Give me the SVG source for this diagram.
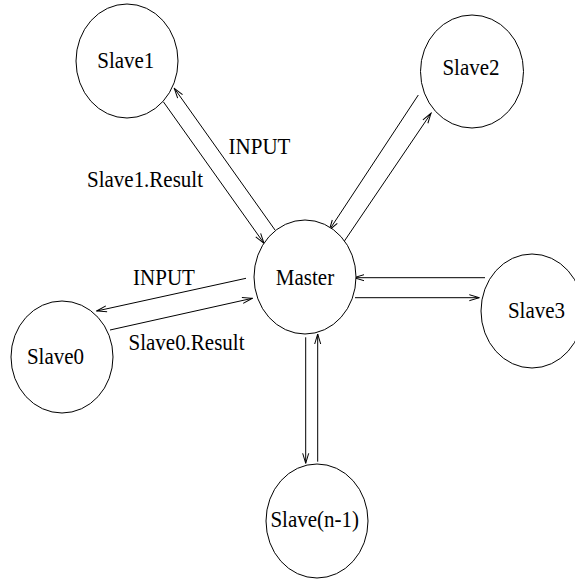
<svg xmlns="http://www.w3.org/2000/svg" width="575" height="582" viewBox="0 0 575 582">
<style>
.n{fill:#fff;stroke:#000;stroke-width:1}
.t{font-family:"Liberation Serif","Times New Roman",serif;font-size:21px;fill:#000;text-anchor:middle}
.c{stroke:#000;stroke-width:1;fill:none;marker-end:url(#ah)}
</style>
<defs>
<marker id="ah" markerUnits="userSpaceOnUse" markerWidth="12" markerHeight="8" refX="11" refY="4" orient="auto">
<path d="M1,1 L11,4 L1,7" fill="none" stroke="#000" stroke-width="1"/>
</marker>
</defs>
<rect width="575" height="582" fill="#fff"/>
<g id="connectors">
<line class="c" x1="163.3" y1="101.7" x2="264" y2="243.3"/>
<line class="c" x1="275" y1="230" x2="174.3" y2="88.3"/>
<line class="c" x1="418.3" y1="95" x2="329.3" y2="230"/>
<line class="c" x1="341.7" y1="245" x2="431" y2="113.3"/>
<line class="c" x1="485" y1="277.7" x2="354" y2="277.7"/>
<line class="c" x1="355" y1="297.7" x2="479.3" y2="297.7"/>
<line class="c" x1="246" y1="278.3" x2="96.7" y2="311"/>
<line class="c" x1="110" y1="330" x2="252.3" y2="298.3"/>
<line class="c" x1="305.7" y1="337.3" x2="305.7" y2="463.3"/>
<line class="c" x1="317.7" y1="461.7" x2="317.7" y2="334"/>
<text class="t" transform="translate(259.5,154) scale(1,1.1)">INPUT</text>
<text class="t" transform="translate(145,186.7) scale(1,1.1)">Slave1.Result</text>
<text class="t" transform="translate(164,285) scale(1,1.1)">INPUT</text>
<text class="t" transform="translate(186.5,350) scale(1,1.1)">Slave0.Result</text>
</g>
<g id="master">
<ellipse class="n" cx="305" cy="277" rx="51" ry="57"/>
<text class="t" transform="translate(305,285) scale(1,1.1)">Master</text>
</g>
<g id="slave1">
<ellipse class="n" cx="127" cy="61" rx="51" ry="57"/>
<text class="t" transform="translate(125.8,68.3) scale(1,1.1)">Slave1</text>
</g>
<g id="slave2">
<ellipse class="n" cx="472" cy="71.5" rx="51.5" ry="56.5"/>
<text class="t" transform="translate(471,75) scale(1,1.1)">Slave2</text>
</g>
<g id="slave3">
<ellipse class="n" cx="532" cy="311" rx="51" ry="57"/>
<text class="t" transform="translate(536.5,318.3) scale(1,1.1)">Slave3</text>
</g>
<g id="slave0">
<ellipse class="n" cx="62" cy="357" rx="51" ry="56"/>
<text class="t" transform="translate(55.5,364.3) scale(1,1.1)">Slave0</text>
</g>
<g id="slave-n-1">
<ellipse class="n" cx="317" cy="521" rx="51" ry="57"/>
<text class="t" transform="translate(314.7,526.7) scale(1,1.1)">Slave(n-1)</text>
</g>
</svg>
